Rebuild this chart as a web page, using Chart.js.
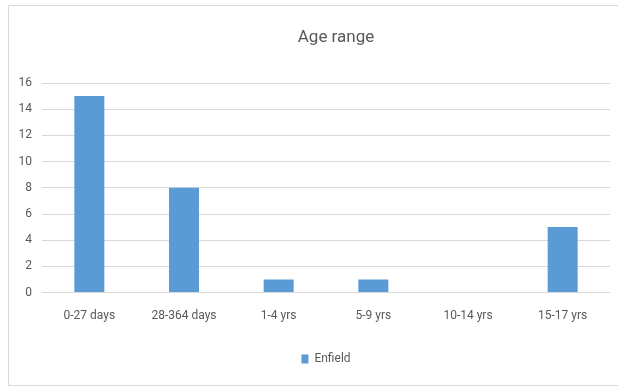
<!DOCTYPE html>
<html>
<head>
<meta charset="utf-8">
<script src="https://cdn.jsdelivr.net/npm/chart.js@4/dist/chart.umd.min.js"></script>
<style>
  html, body { margin: 0; padding: 0; background: #ffffff; overflow: hidden; }
  #wrap { position: absolute; left: 0; top: 0; width: 618px; height: 387px; }
</style>
</head>
<body>
<div id="wrap"><canvas id="c" width="618" height="387"></canvas></div>
<script>
const chartTitle = 'Age range';
const categories = ['0-27 days', '28-364 days', '1-4 yrs', '5-9 yrs', '10-14 yrs', '15-17 yrs'];
const seriesName = 'Enfield';
const enfieldCounts = [15, 8, 1, 1, 0, 5];
const yTicks = [0, 2, 4, 6, 8, 10, 12, 14, 16];

const FONT = "Roboto, 'Liberation Sans', sans-serif";
const TEXT = '#595959';
const GRID = '#d9d9d9';
const BAR = '#5b9bd5';

// Chart frame (open on the right) and centred title text
const framePlugin = {
  id: 'frame',
  beforeDraw(chart) {
    const ctx = chart.ctx;
    ctx.save();
    ctx.fillStyle = '#ffffff';
    ctx.fillRect(0, 0, chart.width, chart.height);
    ctx.strokeStyle = GRID;
    ctx.lineWidth = 1;
    ctx.beginPath();
    ctx.moveTo(chart.width + 40, 5.5);
    ctx.lineTo(8.5, 5.5);
    ctx.lineTo(8.5, 385.5);
    ctx.lineTo(chart.width + 40, 385.5);
    ctx.stroke();
    ctx.restore();
  },
  afterDraw(chart) {
    const ctx = chart.ctx;
    ctx.save();
    ctx.fillStyle = TEXT;
    ctx.font = '17px ' + FONT;
    ctx.textAlign = 'center';
    ctx.textBaseline = 'middle';
    ctx.fillText(chartTitle, 336, 38);
    ctx.restore();
  }
};

new Chart(document.getElementById('c'), {
  type: 'bar',
  data: {
    labels: categories,
    datasets: [{
      label: seriesName,
      data: enfieldCounts,
      backgroundColor: BAR,
      borderWidth: 0,
      barPercentage: 1,
      categoryPercentage: 0.317
    }]
  },
  plugins: [framePlugin],
  options: {
    responsive: false,
    animation: false,
    layout: { padding: { top: 83, left: 0, right: 8, bottom: 12 } },
    plugins: {
      title: { display: false },
      tooltip: { enabled: false },
      legend: {
        position: 'bottom',
        fullSize: false,
        labels: {
          color: TEXT,
          font: { family: FONT, size: 12 },
          boxWidth: 7,
          boxHeight: 9,
          padding: 6
        }
      }
    },
    scales: {
      x: {
        afterFit(scale) { scale.height += 8; },
        grid: { display: false, drawTicks: false },
        border: { display: false },
        ticks: { color: TEXT, font: { family: FONT, size: 12 }, padding: 16, maxRotation: 0 }
      },
      y: {
        min: 0,
        max: 16,
        afterFit(scale) { scale.width = 42; },
        afterBuildTicks(scale) { scale.ticks = yTicks.map(v => ({ value: v })); },
        grid: { color: GRID, lineWidth: 1, drawTicks: false },
        border: { display: false },
        ticks: { color: TEXT, font: { family: FONT, size: 12 }, padding: 10 }
      }
    }
  }
});
</script>
</body>
</html>
